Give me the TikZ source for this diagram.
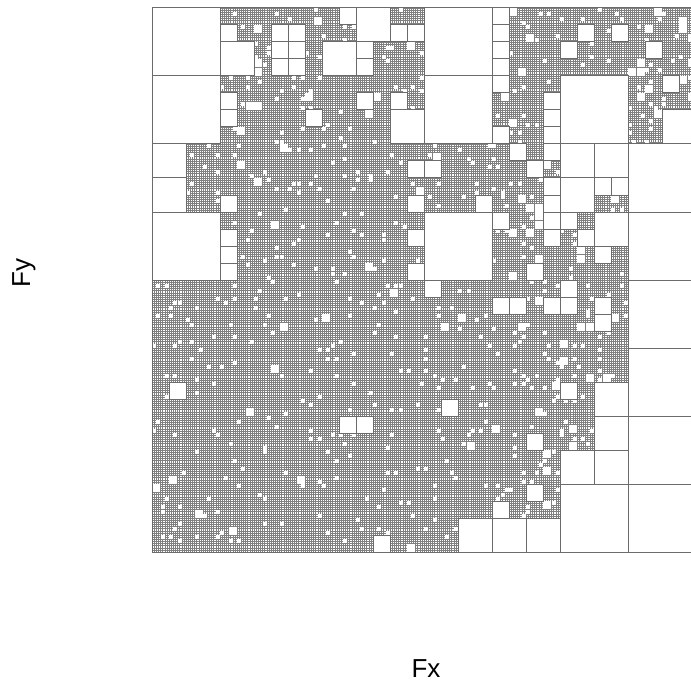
\documentclass[tikz,border=0pt]{standalone}
\usepackage{fontspec}
\setmainfont{Liberation Sans}
\usetikzlibrary{positioning}
\definecolor{gridline}{gray}{0.5}
\definecolor{boxline}{gray}{0.42}
\tikzset{
  fine/.style={draw=gridline,line width=0.5pt},
  cell/.style={fill=white,draw=boxline,line width=1pt},
  hole/.style={fill=white,draw=none},
  axislabel/.style={font=\fontsize{26}{30}\selectfont},
}

\begin{document}
\begin{tikzpicture}[x=1pt,y=-1pt]
  \useasboundingbox (0,0) rectangle (691,682);
  \clip (0,0) rectangle (691,682);
  \begin{scope}[shift={(152pt,-8pt)},x=4.25pt,y=-4.25pt]
    % finest level everywhere first
    \draw[fine] \foreach \k in {0,...,256}{(\k/2,0) -- (\k/2,128) (0,\k/2) -- (128,\k/2)};
    % unrefined small cells scattered in the fine part
    \pgfmathsetseed{4242}
    \foreach \i in {0,...,63}{
      \foreach \j in {0,...,63}{
        \pgfmathsetmacro{\dotp}{(\j<16 || \i>=40) ? 0.3 : (\j<40 ? 0.2 : 0.13)}
        \pgfmathsetmacro{\boxp}{(\j<16 || \i>=40) ? 0.07 : 0.015}
        \pgfmathsetmacro{\rndv}{rnd}
        \ifdim\rndv pt<\boxp pt
          \fill[hole] (2*\i+0.06,2*\j+0.06) rectangle ++(1.88,1.88);
        \else\ifdim\rndv pt<\dotp pt
          \pgfmathsetmacro{\sx}{2*\i+int(2*rnd)}
          \pgfmathsetmacro{\sy}{2*\j+int(2*rnd)}
          \fill[hole] (\sx+0.04,\sy+0.04) rectangle ++(0.92,0.92);
        \fi\fi
      }
    }
    % coarse cells
    \foreach \bx/\by/\bs in {0/0/16, 0/16/16, 0/48/16, 64/0/16, 64/16/16, 64/48/16,
        96/16/16, 96/112/16, 112/32/16, 112/48/16, 112/64/16, 112/80/16, 112/96/16, 112/112/16,
        16/8/8, 48/0/8, 40/8/8, 56/24/8, 0/32/8, 0/40/8, 96/32/8, 104/32/8, 120/24/8,
        96/40/8, 104/48/8, 104/88/8, 104/96/8, 96/104/8, 104/104/8, 72/120/8, 80/120/8, 88/120/8,
        16/4/4, 28/4/4, 32/4/4, 28/8/4, 32/8/4, 28/12/4, 32/12/4, 16/20/4, 16/24/4, 36/24/4,
        44/0/4, 56/4/4, 60/4/4, 48/8/4, 48/12/4, 48/20/4, 56/20/4, 80/0/4, 80/4/4, 80/8/4,
        80/12/4, 80/16/4, 80/28/4, 60/36/4, 64/36/4, 100/4/4, 108/4/4, 96/8/4, 116/8/4,
        120/16/4, 92/20/4, 92/24/4, 92/28/4, 84/32/4, 92/32/4, 88/36/4, 92/40/4, 92/44/4,
        104/40/4, 108/40/4, 92/48/4, 96/48/4, 100/52/4, 92/52/4, 88/60/4, 96/64/4, 84/68/4,
        92/68/4, 96/68/4, 104/68/4, 104/72/4, 104/56/4, 96/88/4, 88/100/4, 88/112/4, 80/116/4,
        44/96/4, 48/96/4, 68/92/4, 52/124/4, 4/88/4, 16/44/4, 16/52/4, 16/56/4, 16/60/4,
        60/44/4, 76/44/4, 60/52/4, 60/60/4, 64/64/4, 80/48/4, 80/68/4}
      \draw[cell] (\bx,\by) rectangle ++(\bs,\bs);
    \draw[boxline,line width=1pt] (0,0) rectangle (128,128);
  \end{scope}
  \node[axislabel,rotate=90] (fy) at (24,273) {Fy};
  \node[axislabel] (fx) at (426,669) {Fx};
\end{tikzpicture}
\end{document}
